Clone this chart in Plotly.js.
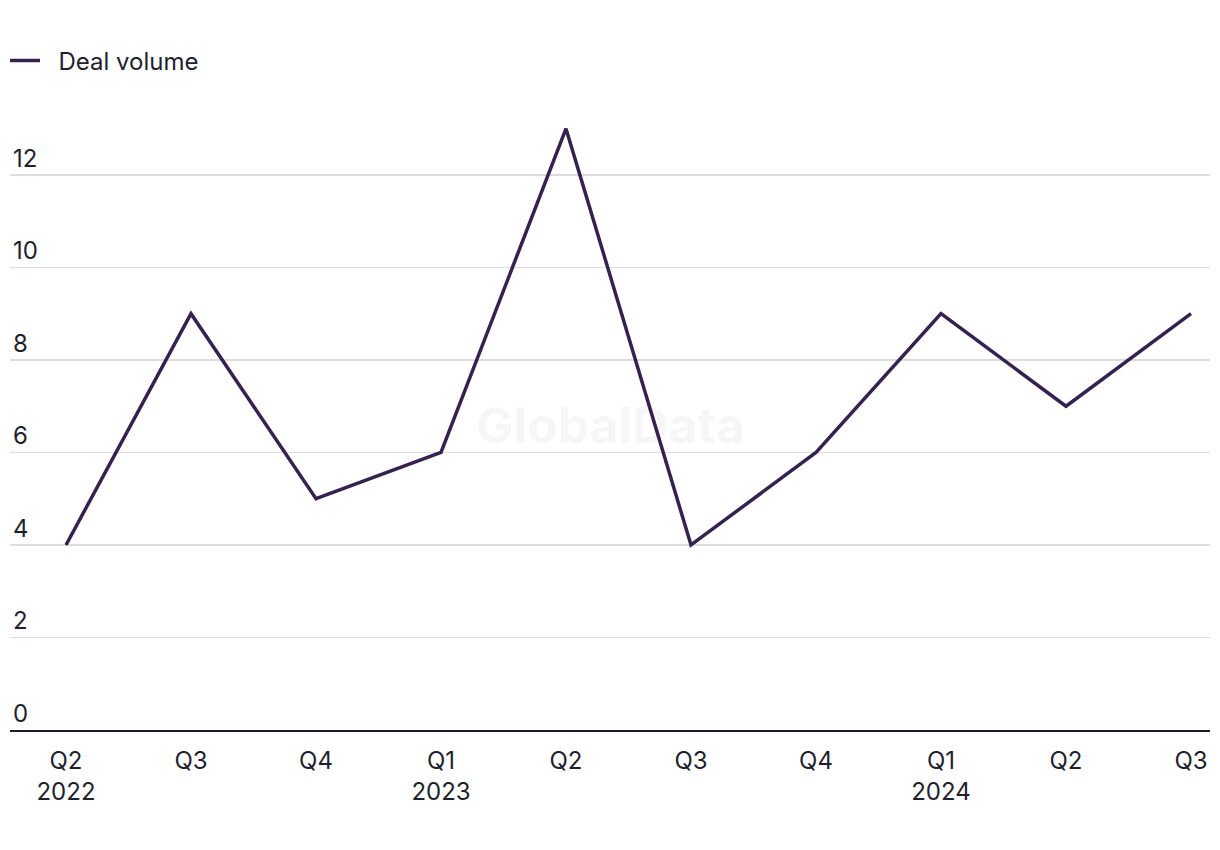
<!DOCTYPE html>
<html>
<head>
<meta charset="utf-8">
<script src="https://cdn.plot.ly/plotly-3.0.1.min.js"></script>
<style>
  html, body { margin: 0; padding: 0; background: #fff; }
  #chart { width: 1220px; height: 850px; }
</style>
</head>
<body>
<div id="chart"></div>
<script>
const quarters = ['Q2', 'Q3', 'Q4', 'Q1', 'Q2', 'Q3', 'Q4', 'Q1', 'Q2', 'Q3'];
const years = ['2022', '', '', '2023', '', '', '', '2024', '', ''];
const dealVolume = [4, 9, 5, 6, 13, 4, 6, 9, 7, 9];
const seriesName = 'Deal volume';
const yTicks = [0, 2, 4, 6, 8, 10, 12];

const idx = quarters.map((_, i) => i);
const tickText = quarters.map((q, i) => years[i] ? q + '<br>' + years[i] : q);

const FONT = 'Inter, "Noto Sans", Arial, sans-serif';
const TXT = '#1f1f2e';

const trace = {
  x: idx,
  y: dealVolume,
  type: 'scatter',
  mode: 'lines',
  name: '\u00a0\u00a0' + seriesName,
  line: { color: '#35224f', width: 3.5 },
  hoverinfo: 'skip'
};

const layout = {
  width: 1220,
  height: 850,
  paper_bgcolor: '#ffffff',
  plot_bgcolor: '#ffffff',
  margin: { l: 10, r: 10, t: 100, b: 120, autoexpand: false },
  font: { family: FONT, size: 24, color: TXT },
  showlegend: true,
  legend: {
    orientation: 'h',
    x: -0.0042, xanchor: 'left',
    y: 1.062, yanchor: 'middle',
    font: { family: FONT, size: 24, color: TXT },
    bgcolor: 'rgba(0,0,0,0)'
  },
  xaxis: {
    range: [-0.448, 9.152],
    tickmode: 'array',
    tickvals: idx,
    ticktext: tickText,
    showgrid: false,
    zeroline: false,
    showline: true,
    linecolor: '#1c1c2e',
    linewidth: 2,
    ticks: '',
    ticklabelstandoff: 8,
    tickfont: { family: FONT, size: 24, color: TXT },
    fixedrange: true
  },
  yaxis: {
    range: [0, 13.62],
    tickmode: 'array',
    tickvals: yTicks,
    ticktext: yTicks.map(String),
    ticklabelposition: 'inside top',
    showgrid: true,
    gridcolor: '#dcdcdc',
    gridwidth: 1.5,
    zeroline: false,
    showline: false,
    ticks: '',
    tickfont: { family: FONT, size: 24, color: TXT },
    fixedrange: true
  },
  annotations: [{
    text: '<b>GlobalData</b>',
    xref: 'paper', yref: 'paper',
    x: 0.5, y: 0.484,
    showarrow: false,
    font: { family: FONT, size: 50, color: 'rgba(0,0,0,0.035)' }
  }]
};

Plotly.newPlot('chart', [trace], layout, { displayModeBar: false, staticPlot: true });
</script>
</body>
</html>
